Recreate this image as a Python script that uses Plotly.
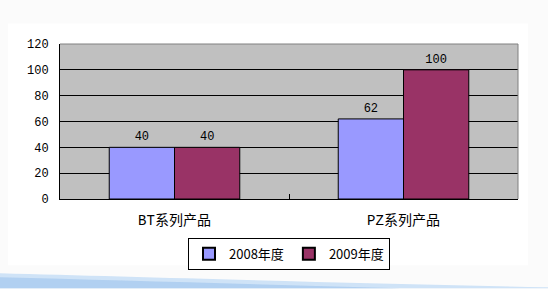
import plotly.graph_objects as go

# Sales by product series, two years
categories = ["BT系列产品", "PZ系列产品"]
series_names = ["2008年度", "2009年度"]
values_2008 = [40, 62]
values_2009 = [40, 100]
y_ticks = [0, 20, 40, 60, 80, 100, 120]

colors = ["#9999ff", "#993366"]
font_family = "Liberation Mono, Noto Sans CJK SC, sans-serif"

fig = go.Figure()
for name, vals, col in zip(series_names, [values_2008, values_2009], colors):
    fig.add_trace(go.Bar(
        x=categories, y=vals, name=name,
        marker=dict(color=col, line=dict(color="black", width=1)),
        text=[str(v) for v in vals], textposition="outside",
        textfont=dict(color="black", size=12, family=font_family),
        cliponaxis=False,
    ))

W, H = 548, 289
fig.update_layout(
    width=W, height=H,
    margin=dict(l=60, r=30, t=44, b=90),
    paper_bgcolor="#fbfbfb",
    plot_bgcolor="#c0c0c0",
    barmode="group", bargap=0.43, bargroupgap=0,
    font=dict(family=font_family, size=12, color="black"),
    showlegend=True,
    legend=dict(
        orientation="h", x=0.5, xanchor="center", y=-0.25, yanchor="top",
        bordercolor="black", borderwidth=1, bgcolor="white",
        font=dict(size=13, family="Noto Sans CJK SC, sans-serif"),
        itemwidth=30, tracegroupgap=0, itemsizing="constant",
    ),
    xaxis=dict(
        showgrid=False, showline=True, linecolor="black", linewidth=1,
        ticks="inside", tickson="boundaries", ticklen=5, tickcolor="black",
        ticklabelstandoff=8,
        tickfont=dict(size=14, family="Liberation Mono, Noto Sans CJK SC"),
    ),
    yaxis=dict(
        range=[0, 120], tickvals=y_ticks, showgrid=True, gridcolor="black",
        gridwidth=1, showline=True, linecolor="black", linewidth=1,
        zeroline=False, ticks="", ticklabelstandoff=8, tickfont=dict(size=12),
    ),
)

px = lambda x: (x - 60) / 458
py = lambda y: (199.3 - y) / 155.8

# White chart panel behind the plot
fig.add_shape(type="rect", xref="paper", yref="paper", layer="below",
              x0=px(8), x1=px(528), y0=py(266), y1=py(23),
              fillcolor="white", line=dict(width=0))
# Grey plot area drawn over the panel
fig.add_shape(type="rect", xref="paper", yref="paper", layer="below",
              x0=0, x1=1, y0=0, y1=1,
              fillcolor="#c0c0c0", line=dict(width=0))
# Grey border on the top and right of the plot area
fig.add_shape(type="path", xref="paper", yref="paper",
              path="M 0 1 L 1 1 L 1 0", line=dict(color="#808080", width=1))

# Pale blue swoosh along the bottom edge
fig.add_shape(type="path", xref="paper", yref="paper", layer="below",
              path=f"M {px(0)} {py(274)} C {px(150)} {py(278)}, {px(350)} {py(284)}, {px(548)} {py(288)} "
                   f"L {px(548)} {py(289)} L {px(0)} {py(289)} Z",
              fillcolor="#cfe3f7", line=dict(width=0))
fig.add_shape(type="path", xref="paper", yref="paper", layer="below",
              path=f"M {px(0)} {py(278)} C {px(120)} {py(281)}, {px(250)} {py(285)}, {px(400)} {py(289)} "
                   f"L {px(0)} {py(289)} Z",
              fillcolor="#a9cbef", line=dict(width=0), opacity=0.8)

fig.write_html("out.html")
